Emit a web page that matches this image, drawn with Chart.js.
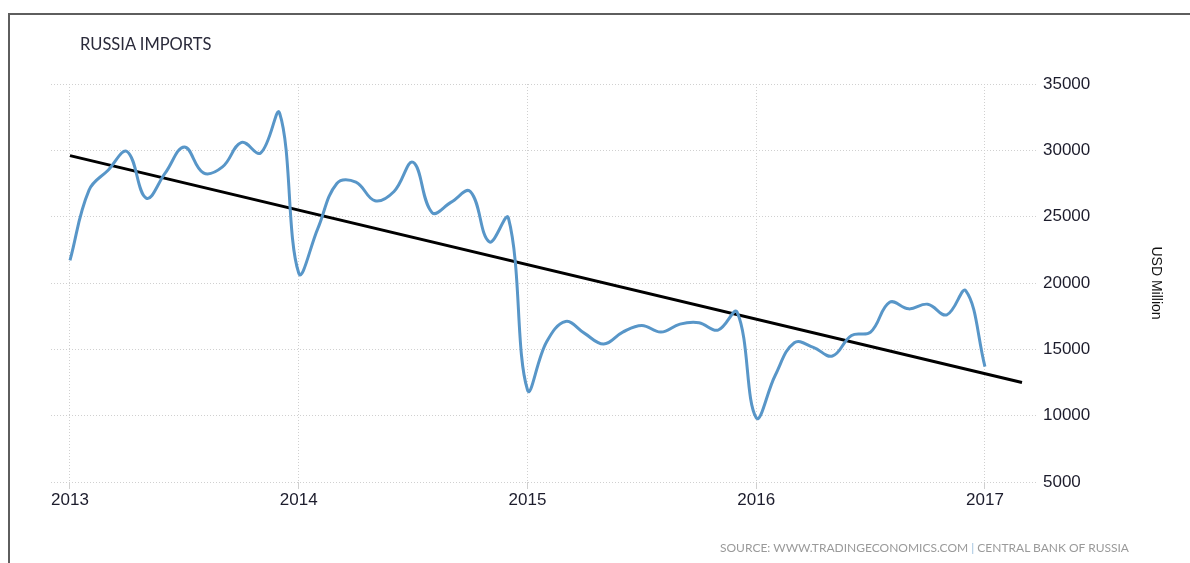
<!DOCTYPE html>
<html>
<head>
<meta charset="utf-8">
<script src="https://cdn.jsdelivr.net/npm/chart.js@4.4.0/dist/chart.umd.min.js"></script>
<style>
  html, body { margin: 0; padding: 0; background: #fff; }
  #wrap { position: relative; width: 1190px; height: 563px; overflow: hidden; }
  #frame { position: absolute; left: 8px; top: 13px; width: 1300px; height: 700px;
           border-left: 2px solid #5e5e5e; border-top: 2px solid #5e5e5e; }
  #title { position: absolute; left: 80px; top: 34px; font: 16.5px Lato, sans-serif; color: #2a2a3a; white-space: nowrap; }
  #source { position: absolute; left: 720px; top: 540px; font: 12px Lato, sans-serif; color: #9a9a9a; white-space: nowrap; }
  #source .sep { color: #9cc0de; }
  canvas { position: absolute; left: 0; top: 0; }
</style>
</head>
<body>
<div id="wrap">
  <div id="frame"></div>
  <canvas id="imports" width="1190" height="563"></canvas>
  <div id="title">RUSSIA IMPORTS</div>
  <div id="source">SOURCE: WWW.TRADINGECONOMICS.COM <span class="sep">|</span> CENTRAL BANK OF RUSSIA</div>
</div>
<script>
// monthly imports, USD million, Jan 2013 .. Jan 2017
var startYear = 2013;
var imports = [
    21700, 27000, 28500, 29900, 26400, 28300, 30250, 28300, 28750, 30600, 29800, 32800,
    20750, 24100, 27500, 27600, 26200, 26900, 29100, 25300, 26100, 26900, 23100, 24900,
    11950, 15550, 17100, 16200, 15400, 16300, 16800, 16300, 16900, 17000, 16450, 17800,
    9850, 13050, 15500, 15150, 14500, 16050, 16300, 18550, 18050, 18400, 17600, 19400,
    13700
];
// linear trend, start and end
var trendX = [2013, 2017.162];
var trendY = [29600, 12500];
var yearTicks = [2013, 2014, 2015, 2016, 2017];
var yTicks = [5000, 10000, 15000, 20000, 25000, 30000, 35000];

var importPoints = imports.map(function (v, i) {
    return { x: startYear + i / 12, y: v };
});
var trendPoints = trendX.map(function (x, i) {
    return { x: x, y: trendY[i] };
});

var tickFont = { family: 'Liberation Sans, Arial, sans-serif', size: 17 };

var ctx = document.getElementById('imports').getContext('2d');
var chart = new Chart(ctx, {
    type: 'line',
    data: {
        datasets: [{
            label: 'Imports',
            data: importPoints,
            borderColor: '#5896c8',
            borderWidth: 3,
            pointRadius: 0,
            tension: 0.4,
            fill: false
        }, {
            label: 'Trend',
            data: trendPoints,
            borderColor: '#000',
            borderWidth: 3,
            pointRadius: 0,
            fill: false
        }]
    },
    options: {
        responsive: false,
        animation: false,
        layout: { padding: { left: 51, top: 84, right: 0, bottom: 0 } },
        plugins: {
            legend: { display: false },
            tooltip: { enabled: false }
        },
        scales: {
            x: {
                type: 'linear',
                min: 2012.917,
                max: 2017.232,
                afterBuildTicks: function (s) {
                    s.ticks = yearTicks.map(function (v) { return { value: v }; });
                },
                afterFit: function (s) { s.height = 81; },
                grid: { color: '#d0d0d0', lineWidth: 1, tickLength: 7, tickColor: '#d0d0d0' },
                border: { display: false, dash: [1, 2] },
                ticks: {
                    font: tickFont,
                    color: '#1c1c2c',
                    padding: 1,
                    maxRotation: 0,
                    autoSkip: false,
                    callback: function (v) { return String(v); }
                }
            },
            y: {
                position: 'right',
                min: yTicks[0],
                max: yTicks[yTicks.length - 1],
                afterBuildTicks: function (s) {
                    s.ticks = yTicks.map(function (v) { return { value: v }; });
                },
                afterFit: function (s) { s.width = 152; },
                grid: { color: '#d0d0d0', lineWidth: 1, drawTicks: false },
                border: { display: false, dash: [1, 2] },
                ticks: {
                    font: tickFont,
                    color: '#1c1c2c',
                    padding: 5,
                    callback: function (v) { return String(v); }
                },
                title: {
                    display: true,
                    text: 'USD Million',
                    font: { family: 'Liberation Sans, Arial, sans-serif', size: 14 },
                    color: '#111',
                    padding: { top: 26, bottom: 0 }
                }
            }
        }
    }
});
</script>
</body>
</html>
